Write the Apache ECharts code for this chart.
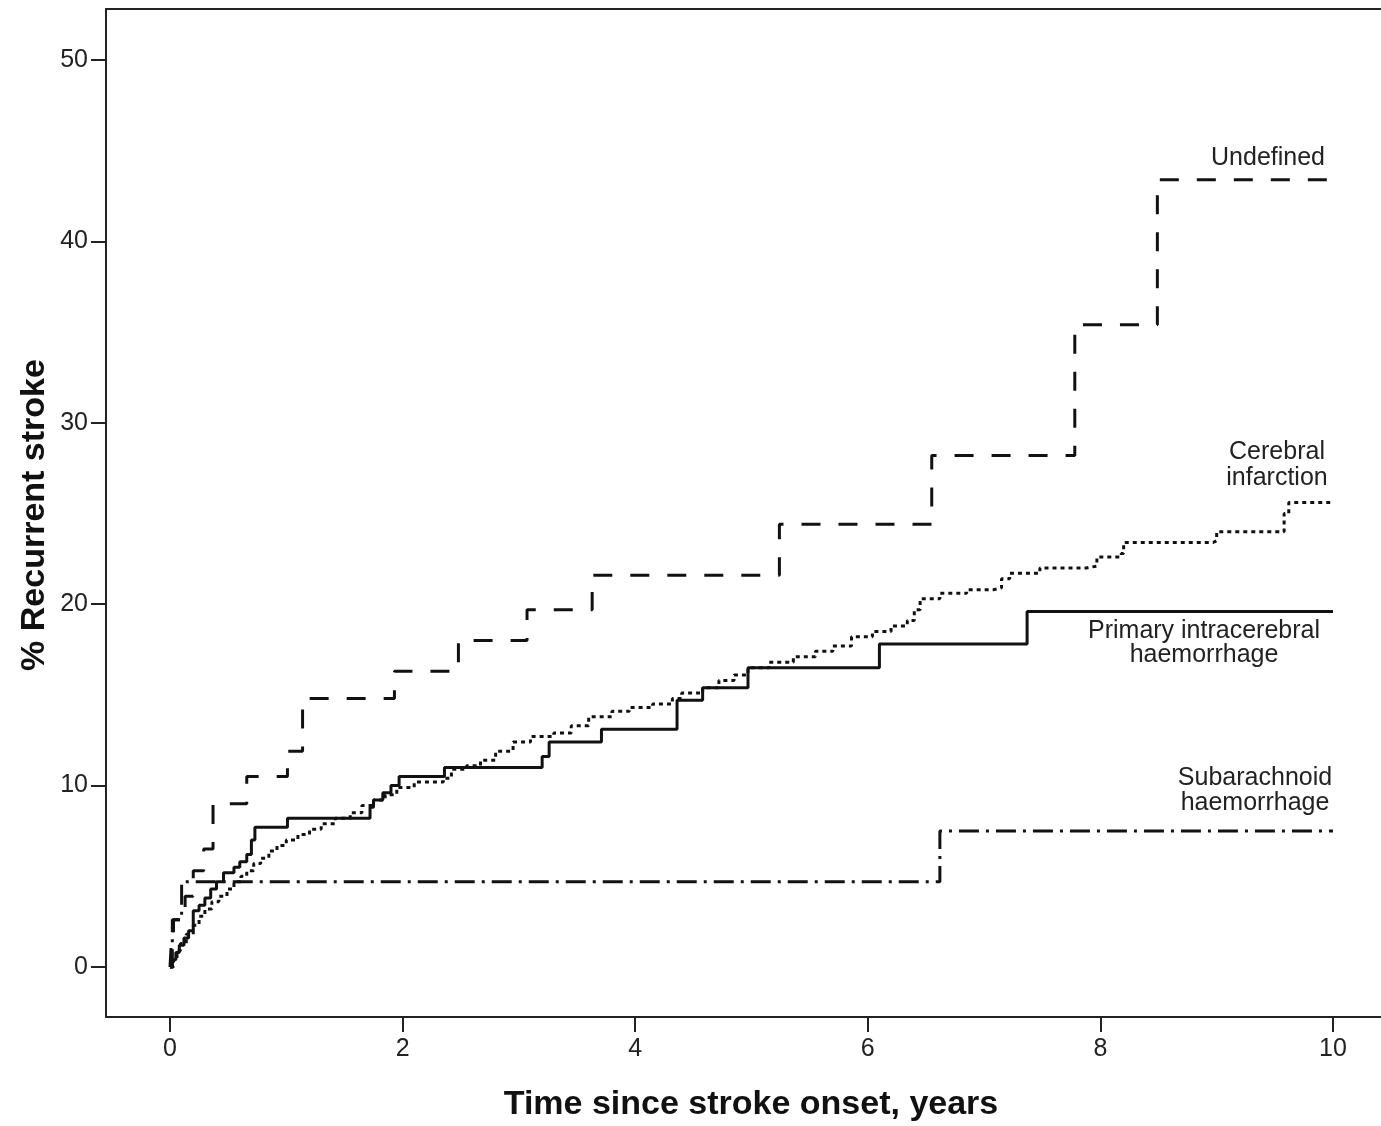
<!DOCTYPE html>
<html>
<head>
<meta charset="utf-8">
<script src="https://cdn.jsdelivr.net/npm/echarts@6/dist/echarts.min.js"></script>
<style>
html,body{margin:0;padding:0;background:#fff;}
#chart{width:1381px;height:1126px;}
</style>
</head>
<body>
<div id="chart"></div>
<script>
// Tick labels
var xTicks = [0, 2, 4, 6, 8, 10];
var yTicks = [0, 10, 20, 30, 40, 50];

// Series: [time in years, cumulative % recurrent stroke]
var undefinedData = [[0,0],[0.01,1.2],[0.03,2.6],[0.13,3.9],[0.2,5.3],[0.29,6.5],[0.37,9.0],[0.66,10.5],[1.01,11.9],[1.14,14.8],[1.93,16.3],[2.48,18.0],[3.07,19.7],[3.63,21.6],[5.24,24.4],[6.55,28.2],[7.78,35.4],[8.49,43.4],[10,43.4]];

var cerebralData = [[0,0],[0.03,0.4],[0.06,0.9],[0.09,1.3],[0.14,1.8],[0.2,2.3],[0.25,2.8],[0.3,3.2],[0.36,3.6],[0.42,3.9],[0.49,4.3],[0.55,4.7],[0.61,5.0],[0.66,5.3],[0.72,5.7],[0.78,6.0],[0.85,6.4],[0.92,6.7],[1.0,7.0],[1.1,7.3],[1.2,7.6],[1.3,7.9],[1.42,8.2],[1.55,8.5],[1.65,8.9],[1.75,9.2],[1.85,9.5],[1.95,9.9],[2.1,10.2],[2.35,10.4],[2.42,10.9],[2.55,11.1],[2.67,11.4],[2.8,11.9],[2.95,12.4],[3.1,12.7],[3.3,12.9],[3.45,13.3],[3.6,13.8],[3.8,14.1],[3.95,14.3],[4.15,14.5],[4.32,14.8],[4.4,15.1],[4.58,15.4],[4.72,15.8],[4.85,16.1],[4.97,16.5],[5.15,16.8],[5.36,17.1],[5.55,17.4],[5.7,17.7],[5.86,18.2],[6.04,18.5],[6.2,18.8],[6.34,19.1],[6.4,19.7],[6.45,20.3],[6.62,20.6],[6.85,20.8],[7.08,20.9],[7.15,21.4],[7.22,21.7],[7.48,22.0],[7.88,22.1],[7.97,22.6],[8.18,22.8],[8.2,23.4],[8.97,23.5],[9.0,24.0],[9.55,24.0],[9.58,25.0],[9.62,25.6],[10.0,25.6]];

var picData = [[0,0],[0.02,0.4],[0.05,0.8],[0.08,1.2],[0.12,1.6],[0.16,2.0],[0.2,3.1],[0.25,3.4],[0.3,3.8],[0.35,4.3],[0.4,4.7],[0.46,5.2],[0.55,5.5],[0.6,5.8],[0.66,6.2],[0.7,7.0],[0.73,7.7],[1.01,8.2],[1.72,8.8],[1.75,9.2],[1.83,9.6],[1.9,10.0],[1.97,10.5],[2.36,11.0],[3.2,11.6],[3.26,12.4],[3.71,13.1],[4.36,14.7],[4.58,15.4],[4.97,16.5],[6.1,17.8],[7.37,19.6],[10,19.6]];

var sahData = [[0,0],[0.02,2.6],[0.1,4.7],[6.62,7.5],[10,7.5]];

var X_MIN = -0.5503, X_MAX = 10.413;
var Y_MIN = -2.756, Y_MAX = 52.81;

var chart = echarts.init(document.getElementById('chart'), null, {renderer:'canvas'});
var axisCol = '#222';
var font = 'Liberation Sans, Arial, sans-serif';

function lineSeries(name, data, type, width) {
  return {
    name: name, type: 'line', data: data, step: 'end',
    showSymbol: false, symbol: 'none', animation: false,
    lineStyle: {color: '#111', width: width, type: type, cap: 'butt'},
    z: 3
  };
}

chart.setOption({
  animation: false,
  backgroundColor: '#fff',
  grid: {left: 106, top: 9, right: 0, bottom: 109, containLabel: false},
  xAxis: [{
    type: 'value', min: X_MIN, max: X_MAX, position: 'bottom',
    axisLine: {show: true, onZero: false, lineStyle: {color: axisCol, width: 2}},
    axisTick: {show: true, length: 15, customValues: xTicks, lineStyle: {color: axisCol, width: 2}},
    axisLabel: {customValues: xTicks, fontSize: 25, color: '#222', margin: 20, fontFamily: font},
    splitLine: {show: false}
  }, {
    type: 'value', min: X_MIN, max: X_MAX, position: 'top',
    axisLine: {show: true, onZero: false, lineStyle: {color: axisCol, width: 2}},
    axisTick: {show: false}, axisLabel: {show: false}, splitLine: {show: false}
  }],
  yAxis: [{
    type: 'value', min: Y_MIN, max: Y_MAX,
    axisLine: {show: true, onZero: false, lineStyle: {color: axisCol, width: 2}},
    axisTick: {show: true, length: 15, customValues: yTicks, lineStyle: {color: axisCol, width: 2}},
    axisLabel: {customValues: yTicks, fontSize: 25, color: '#222', margin: 18, fontFamily: font},
    splitLine: {show: false}
  }],
  series: [
    lineSeries('Undefined', undefinedData, [19, 18], 3),
    lineSeries('Cerebral infarction', cerebralData, [4, 4], 3),
    lineSeries('Primary intracerebral haemorrhage', picData, 'solid', 3),
    lineSeries('Subarachnoid haemorrhage', sahData, [20, 7, 3, 7], 3)
  ],
  graphic: [
    {type: 'text', left: 'auto', x: 751, y: 1105, style: {text: 'Time since stroke onset, years', font: 'bold 34px ' + font, fill: '#111', textAlign: 'center', textVerticalAlign: 'middle'}},
    {type: 'text', x: 35, y: 515, rotation: Math.PI / 2, style: {text: '% Recurrent stroke', font: 'bold 34px ' + font, fill: '#111', textAlign: 'center', textVerticalAlign: 'middle'}},
    {type: 'text', x: 1325, y: 158, style: {text: 'Undefined', font: '25px ' + font, fill: '#222', textAlign: 'right', textVerticalAlign: 'middle'}},
    {type: 'text', x: 1277, y: 465, style: {text: 'Cerebral\ninfarction', font: '25px ' + font, lineHeight: 26, fill: '#222', textAlign: 'center', textVerticalAlign: 'middle'}},
    {type: 'text', x: 1204, y: 643, style: {text: 'Primary intracerebral\nhaemorrhage', font: '25px ' + font, lineHeight: 24, fill: '#222', textAlign: 'center', textVerticalAlign: 'middle'}},
    {type: 'text', x: 1255, y: 791, style: {text: 'Subarachnoid\nhaemorrhage', font: '25px ' + font, lineHeight: 25, fill: '#222', textAlign: 'center', textVerticalAlign: 'middle'}}
  ]
});
</script>
</body>
</html>
